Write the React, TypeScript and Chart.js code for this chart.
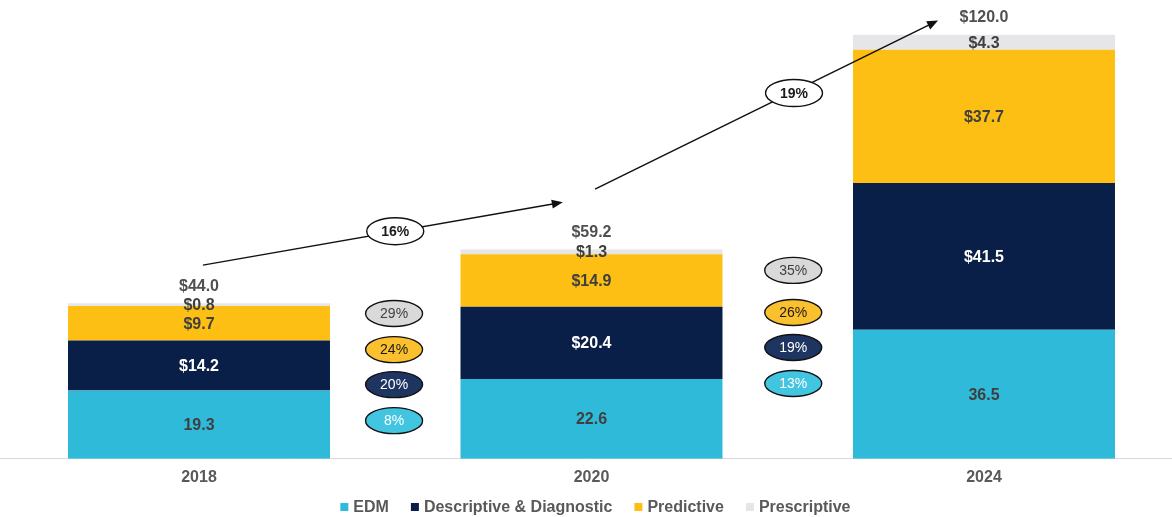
import React, { useEffect, useRef } from "react";
import { Chart, registerables } from "chart.js";

Chart.register(...registerables);

// ---------- data ----------
const categories = ["2018", "2020", "2024"];
const seriesNames = ["EDM", "Descriptive & Diagnostic", "Predictive", "Prescriptive"];
const edm = [19.3, 22.6, 36.5];
const descriptive = [14.2, 20.4, 41.5];
const predictive = [9.7, 14.9, 37.7];
const prescriptive = [0.8, 1.3, 4.3];
const totals = [44.0, 59.2, 120.0];
const totalCagr = ["16%", "19%"];
// order: Prescriptive, Predictive, Descriptive & Diagnostic, EDM
const cagr2018to2020 = ["29%", "24%", "20%", "8%"];
const cagr2020to2024 = ["35%", "26%", "19%", "13%"];

// ---------- styles ----------
const FONT = "'Liberation Sans', Arial, Helvetica, sans-serif";
const barColors = ["#2FBADA", "#0A1F48", "#FDBF14", "#E6E5E7"];
const labelColors = ["#3F3F3F", "#FFFFFF", "#3F3F3F", "#3F3F3F"];
const labelPrefix = ["", "$", "$", "$"];
const ovalFills = ["#D9D9D9", "#FBC02D", "#1E3461", "#42C5E1"];
const ovalText = ["#404040", "#1A1A1A", "#FFFFFF", "#FFFFFF"];

// annotation layout, in scale units (x: category index, y: value)
const arrowLayout = [
  { x0: 0.01, y0: 54.8, x1: 0.927, y1: 72.6 },
  { x0: 1.009, y0: 76.3, x1: 1.883, y1: 124.0 },
];
const cagrOvalLayout = [
  { x: 0.5, y: 64.4 },
  { x: 1.516, y: 103.5 },
];
const segmentOvalX = [0.497, 1.514];
const segmentOvalY = [
  [41.1, 30.9, 21.0, 10.8],
  [53.3, 41.4, 31.5, 21.3],
];

function drawOval(ctx: CanvasRenderingContext2D, cx: number, cy: number, w: number, h: number, fill: string, text: string, color: string, font: string) {
  ctx.save();
  ctx.beginPath();
  ctx.ellipse(cx, cy, w / 2, h / 2, 0, 0, Math.PI * 2);
  ctx.fillStyle = fill;
  ctx.fill();
  ctx.lineWidth = 1.4;
  ctx.strokeStyle = "#111111";
  ctx.stroke();
  ctx.fillStyle = color;
  ctx.font = font;
  ctx.textAlign = "center";
  ctx.textBaseline = "middle";
  ctx.fillText(text, cx, cy + 1);
  ctx.restore();
}

function drawArrow(ctx: CanvasRenderingContext2D, x0: number, y0: number, x1: number, y1: number) {
  const ang = Math.atan2(y1 - y0, x1 - x0);
  const len = 11;
  const half = 4.5;
  ctx.save();
  ctx.strokeStyle = "#111111";
  ctx.fillStyle = "#111111";
  ctx.lineWidth = 1.5;
  ctx.beginPath();
  ctx.moveTo(x0, y0);
  ctx.lineTo(x1 - Math.cos(ang) * len * 0.8, y1 - Math.sin(ang) * len * 0.8);
  ctx.stroke();
  ctx.beginPath();
  ctx.moveTo(x1, y1);
  ctx.lineTo(x1 - Math.cos(ang) * len + Math.sin(ang) * half, y1 - Math.sin(ang) * len - Math.cos(ang) * half);
  ctx.lineTo(x1 - Math.cos(ang) * len - Math.sin(ang) * half, y1 - Math.sin(ang) * len + Math.cos(ang) * half);
  ctx.closePath();
  ctx.fill();
  ctx.restore();
}

const valueLabelPlugin = {
  id: "valueLabels",
  afterDatasetsDraw(chart: any) {
    const ctx: CanvasRenderingContext2D = chart.ctx;
    ctx.save();
    ctx.font = `bold 16px ${FONT}`;
    ctx.textAlign = "center";
    ctx.textBaseline = "middle";
    chart.data.datasets.forEach((ds: any, di: number) => {
      const meta = chart.getDatasetMeta(di);
      meta.data.forEach((bar: any, i: number) => {
        const v = ds.data[i].y;
        ctx.fillStyle = labelColors[di];
        ctx.fillText(labelPrefix[di] + v.toFixed(1), bar.x, (bar.y + bar.base) / 2 + 1);
      });
    });
    const topMeta = chart.getDatasetMeta(chart.data.datasets.length - 1);
    topMeta.data.forEach((bar: any, i: number) => {
      ctx.fillStyle = "#505050";
      ctx.fillText("$" + totals[i].toFixed(1), bar.x, bar.y - 17);
    });
    ctx.restore();
  },
};

const annotationPlugin = {
  id: "cagrAnnotations",
  afterDraw(chart: any) {
    const ctx: CanvasRenderingContext2D = chart.ctx;
    const xs = chart.scales.x;
    const ys = chart.scales.y;
    const px = (v: number) => xs.getPixelForValue(v);
    const py = (v: number) => ys.getPixelForValue(v);
    arrowLayout.forEach((a) => drawArrow(ctx, px(a.x0), py(a.y0), px(a.x1), py(a.y1)));
    cagrOvalLayout.forEach((o, i) =>
      drawOval(ctx, px(o.x), py(o.y), 57, 27, "#FFFFFF", totalCagr[i], "#1A1A1A", `bold 14px ${FONT}`)
    );
    const groups = [cagr2018to2020, cagr2020to2024];
    groups.forEach((g, gi) => {
      g.forEach((t, k) => {
        drawOval(ctx, px(segmentOvalX[gi]), py(segmentOvalY[gi][k]), 57, 26, ovalFills[k], t, ovalText[k], `14px ${FONT}`);
      });
    });
  },
};

const legendPlugin = {
  id: "customLegend",
  afterDraw(chart: any) {
    const ctx: CanvasRenderingContext2D = chart.ctx;
    const box = 8;
    const gap = 5;
    const spacing = 22;
    ctx.save();
    ctx.font = `bold 16px ${FONT}`;
    ctx.textBaseline = "middle";
    ctx.textAlign = "left";
    const items = chart.data.datasets.map((d: any) => ({ text: d.label, color: d.backgroundColor, w: ctx.measureText(d.label).width }));
    const total = items.reduce((s: number, it: any) => s + box + gap + it.w, 0) + spacing * (items.length - 1);
    const cx = chart.scales.x.getPixelForValue(1.01);
    let x = cx - total / 2;
    const y = 507;
    items.forEach((it: any) => {
      ctx.fillStyle = it.color;
      ctx.fillRect(x, y - box / 2, box, box);
      x += box + gap;
      ctx.fillStyle = "#595959";
      ctx.fillText(it.text, x, y + 1);
      x += it.w + spacing;
    });
    ctx.restore();
  },
};

export default function App() {
  const canvasRef = useRef<HTMLCanvasElement | null>(null);

  useEffect(() => {
    if (!canvasRef.current) return;
    const seriesValues = [edm, descriptive, predictive, prescriptive];
    const chart = new Chart(canvasRef.current, {
      type: "bar",
      data: {
        datasets: seriesValues.map((vals, si) => ({
          label: seriesNames[si],
          data: vals.map((v, i) => ({ x: i, y: v })),
          backgroundColor: barColors[si],
          borderWidth: 0,
          categoryPercentage: 1,
          barPercentage: 0.6675,
        })),
      },
      options: {
        responsive: false,
        devicePixelRatio: 1,
        animation: false,
        layout: { padding: { top: 17, bottom: 21, left: 0, right: 0 } },
        plugins: {
          legend: { display: false },
          tooltip: { enabled: false },
        },
        scales: {
          x: {
            type: "linear",
            stacked: true,
            offset: false,
            min: -0.507,
            max: 2.479,
            grid: { display: false, drawTicks: false },
            border: { display: true, color: "#D9D9D9", width: 1 },
            afterBuildTicks: (scale: any) => {
              scale.ticks = categories.map((_, i) => ({ value: i }));
            },
            ticks: {
              padding: 9,
              color: "#595959",
              font: { family: FONT, size: 16, weight: "bold" },
              callback: (value: any) => categories[Math.round(Number(value))] ?? "",
            },
          },
          y: {
            stacked: true,
            display: false,
            min: 0,
            max: 125,
          },
        },
      } as any,
      plugins: [valueLabelPlugin, annotationPlugin, legendPlugin],
    });
    return () => chart.destroy();
  }, []);

  return (
    <div style={{ position: "fixed", left: 0, top: 0, width: 1172, height: 517, background: "#FFFFFF" }}>
      <canvas ref={canvasRef} width={1172} height={517} style={{ display: "block" }} />
    </div>
  );
}
